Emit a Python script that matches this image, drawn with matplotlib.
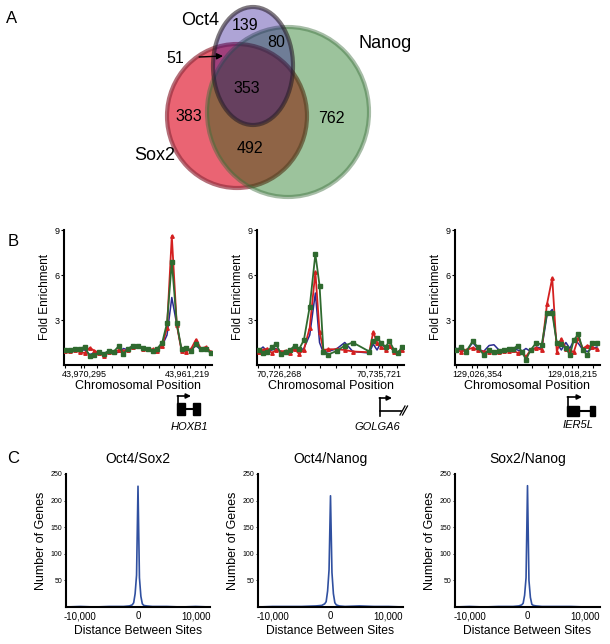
import numpy as np
import matplotlib
matplotlib.use('Agg')
import matplotlib.pyplot as plt
from matplotlib.patches import Ellipse, Rectangle
from matplotlib.ticker import MultipleLocator, FixedLocator

plt.rcParams['font.family'] = ['Liberation Sans', 'DejaVu Sans']

# ---- panel A: venn counts
venn_labels = ['Oct4', 'Sox2', 'Nanog']
oct4_only = 139
oct4_nanog = 80
oct4_sox2 = 51
all_three = 353
sox2_only = 383
nanog_only = 762
sox2_nanog = 492

# ---- panel B: ChIP-chip fold enrichment (x = relative probe position, 0-100)
b_genes = ['HOXB1', 'GOLGA6', 'IER5L']
b_ticklabels = [['43,970,295', '43,961,219'],
                ['70,726,268', '70,735,721'],
                ['129,026,354', '129,018,215']]
b_tickpos = [[12.8, 83.8], [14.3, 83.7], [14.5, 81.4]]

hoxb1_x = [0, 3.3, 6.7, 10, 13.3, 16.7, 20, 23.3, 26.7, 30, 33.3, 36.7, 40, 43.3, 46.7, 50,
           53.3, 56.7, 60, 63.3, 66.7, 70, 73.3, 76.7, 80, 83.3, 86.7, 90, 93.3, 96.7, 100]
hoxb1_blue = [1.0, 1.0, 1.05, 1.0, 1.0, 0.7, 0.8, 0.85, 0.8, 0.9, 0.8, 0.85, 1.1, 1.0, 1.15, 1.2,
              1.1, 1.0, 1.0, 1.05, 1.3, 2.0, 4.5, 2.7, 1.0, 1.0, 1.0, 1.3, 1.0, 1.1, 0.85]
hoxb1_red = [0.95, 0.95, 1.0, 0.85, 0.8, 1.15, 0.95, 0.8, 0.6, 0.9, 0.85, 1.0, 0.95, 1.0, 1.2, 1.25,
             1.1, 1.05, 1.05, 0.95, 1.3, 2.5, 8.6, 2.7, 0.95, 0.9, 1.1, 1.7, 1.1, 1.2, 0.9]
hoxb1_green = [1.0, 1.0, 1.05, 1.1, 1.2, 0.6, 0.65, 0.85, 0.75, 0.95, 0.9, 1.25, 0.75, 1.1, 1.3, 1.3,
               1.15, 1.05, 0.95, 1.1, 1.5, 2.8, 6.9, 2.8, 1.05, 1.15, 0.95, 1.4, 1.05, 1.1, 0.8]

golga6_x = [0.2, 3.2, 6.1, 9.3, 12.2, 15.6, 19.0, 22.0, 25.2, 28.1, 31.5, 35.6, 39.5, 42.4,
            45.1, 48.5, 54.6, 59.9, 65.5, 76.9, 79.6, 82.3, 85.0, 88.2, 90.9, 94.1, 96.8, 99.5]
golga6_blue = [0.95, 1.2, 0.9, 1.0, 1.1, 0.9, 0.85, 1.0, 1.0, 0.95, 1.1, 2.0, 4.8, 1.5,
               0.8, 0.9, 1.1, 1.5, 0.9, 0.8, 1.4, 1.0, 1.5, 1.1, 1.3, 0.9, 0.85, 1.0]
golga6_red = [0.9, 1.0, 1.1, 0.8, 1.0, 0.9, 0.95, 0.8, 1.05, 0.75, 1.0, 2.5, 6.2, 2.2,
              1.0, 1.05, 1.05, 1.0, 0.9, 0.85, 2.2, 1.5, 1.2, 1.0, 1.3, 0.9, 0.85, 1.0]
golga6_green = [1.0, 0.8, 0.9, 1.2, 1.4, 0.75, 0.9, 1.0, 1.3, 1.05, 1.65, 3.9, 7.4, 5.3,
                0.9, 0.7, 0.95, 1.3, 1.5, 0.9, 1.6, 1.8, 1.5, 1.2, 1.6, 1.0, 0.8, 1.2]

ier5l_x = [0, 3.4, 6.9, 11.5, 14.9, 19.1, 23.0, 26.4, 29.9, 33.3, 36.8, 39.8, 43.0, 46.0, 48.9,
           52.2, 56.3, 60.0, 63.7, 67.4, 70.6, 73.8, 77.0, 79.8, 82.5, 85.7, 89.0, 92.2, 95.4, 98.9]
ier5l_blue = [1.1, 1.0, 0.9, 1.5, 1.1, 0.9, 1.3, 1.35, 1.0, 0.95, 1.05, 1.1, 1.0, 0.9, 1.1,
              0.9, 1.2, 1.1, 3.3, 3.7, 1.45, 1.0, 1.5, 1.1, 1.65, 1.45, 1.0, 0.9, 1.1, 1.2]
ier5l_red = [1.0, 0.9, 1.0, 1.15, 1.0, 0.9, 0.9, 0.9, 0.85, 0.95, 0.95, 1.0, 0.8, 0.9, 0.55,
             1.0, 1.15, 1.0, 4.05, 5.8, 0.9, 1.75, 1.1, 1.0, 0.85, 1.8, 1.1, 1.3, 1.2, 1.05]
ier5l_green = [1.0, 1.2, 0.9, 1.6, 1.2, 0.7, 1.0, 0.85, 0.95, 1.0, 1.1, 1.05, 1.3, 0.9, 0.35,
               1.0, 1.5, 1.35, 3.45, 3.45, 1.5, 1.4, 1.15, 0.65, 1.65, 2.05, 1.0, 0.65, 1.5, 1.5]

b_data = [(hoxb1_x, hoxb1_blue, hoxb1_red, hoxb1_green),
          (golga6_x, golga6_blue, golga6_red, golga6_green),
          (ier5l_x, ier5l_blue, ier5l_red, ier5l_green)]

# ---- panel C: distance between binding sites
c_titles = ['Oct4/Sox2', 'Oct4/Nanog', 'Sox2/Nanog']
dist_x = [-12500, -10000, -7500, -5000, -2500, -1500, -1000, -750, -500, -250, 0,
          250, 500, 750, 1000, 1500, 2500, 5000, 7500, 10000, 12500]
oct4_sox2_n = [0, 1, 0, 1, 1, 2, 4, 8, 25, 60, 227, 55, 20, 6, 3, 2, 1, 1, 0, 1, 0]
oct4_nanog_n = [0, 1, 1, 1, 2, 3, 6, 10, 30, 70, 209, 65, 25, 8, 4, 2, 1, 2, 1, 1, 0]
sox2_nanog_n = [0, 1, 0, 1, 1, 2, 4, 7, 22, 55, 228, 50, 18, 5, 3, 2, 1, 1, 1, 0, 0]
c_data = [oct4_sox2_n, oct4_nanog_n, sox2_nanog_n]

W, H = 610, 644
fig = plt.figure(figsize=(W / 100, H / 100), dpi=100)


def px_axes(x0, y0, x1, y1):
    return fig.add_axes([x0 / W, 1 - y1 / H, (x1 - x0) / W, (y1 - y0) / H])


def rgba(r, g, b, a):
    return (r / 255, g / 255, b / 255, a)


# overlay in pixel coords for venn, letters, gene cartoons
ov = fig.add_axes([0, 0, 1, 1])
ov.set_xlim(0, W)
ov.set_ylim(H, 0)
ov.axis('off')
ov.patch.set_alpha(0)

# venn (sox2 bottom, nanog, oct4 top)
ov.add_patch(Ellipse((237, 116), 140, 144, facecolor=rgba(228, 48, 68, 0.75),
                     edgecolor=rgba(150, 50, 65, 0.7), lw=3, zorder=1))
ov.add_patch(Ellipse((288, 112), 162, 170, facecolor=rgba(0, 101, 0, 0.39),
                     edgecolor=rgba(60, 110, 60, 0.45), lw=3, zorder=2))
ov.add_patch(Ellipse((253, 66), 80, 118, facecolor=rgba(30, 0, 142, 0.355),
                     edgecolor=rgba(40, 30, 40, 0.6), lw=3, zorder=3))

ov.text(200, 20, venn_labels[0], fontsize=13, ha='center', va='center')
ov.text(155, 155, venn_labels[1], fontsize=13, ha='center', va='center')
ov.text(385, 43, venn_labels[2], fontsize=13, ha='center', va='center')
vfs = 11.5
ov.text(245, 25, str(oct4_only), fontsize=vfs, ha='center', va='center', zorder=5)
ov.text(276, 42, str(oct4_nanog), fontsize=vfs, ha='center', va='center', zorder=5)
ov.text(247, 88, str(all_three), fontsize=vfs, ha='center', va='center', zorder=5)
ov.text(189, 116, str(sox2_only), fontsize=vfs, ha='center', va='center', zorder=5)
ov.text(331, 118, str(nanog_only), fontsize=vfs, ha='center', va='center', zorder=5)
ov.text(250, 148, str(sox2_nanog), fontsize=vfs, ha='center', va='center', zorder=5)
ov.annotate(str(oct4_sox2), xy=(223, 56), xytext=(175, 58), fontsize=vfs,
            ha='center', va='center', zorder=5,
            arrowprops=dict(arrowstyle='-|>', color='black', lw=1, shrinkA=9, shrinkB=0,
                            mutation_scale=9))

# panel letters
ov.text(12, 18, 'A', fontsize=12, ha='center', va='center')
ov.text(13, 241, 'B', fontsize=12, ha='center', va='center')
ov.text(13, 458, 'C', fontsize=12, ha='center', va='center')

# gene cartoons
arr = dict(arrowstyle='-|>', color='black', lw=1.2, mutation_scale=7, shrinkA=0, shrinkB=0)
# HOXB1
ov.add_patch(Rectangle((177, 403), 8, 12, color='black'))
ov.add_patch(Rectangle((193, 403), 7, 12, color='black'))
ov.plot([185, 193], [409, 409], color='black', lw=1.5)
ov.plot([178, 178], [403, 396], color='black', lw=1.2)
ov.annotate('', xy=(191, 396), xytext=(177.4, 396), arrowprops=arr)
ov.text(189, 427, b_genes[0], fontsize=8, style='italic', ha='center', va='center')
# GOLGA6
ov.plot([380, 380], [416, 398], color='black', lw=1.2)
ov.annotate('', xy=(392, 398), xytext=(379.4, 398), arrowprops=arr)
ov.plot([380, 401], [411, 411], color='black', lw=1.2)
ov.plot([400, 405], [415, 406], color='black', lw=0.9)
ov.plot([402.5, 407.5], [415, 406], color='black', lw=0.9)
ov.text(377, 427, b_genes[1], fontsize=8, style='italic', ha='center', va='center')
# IER5L
ov.add_patch(Rectangle((567, 406), 12, 10, color='black'))
ov.add_patch(Rectangle((590, 406), 5, 10, color='black'))
ov.plot([579, 590], [411, 411], color='black', lw=1.5)
ov.plot([568, 568], [406, 397], color='black', lw=1.2)
ov.annotate('', xy=(582, 397), xytext=(567.4, 397), arrowprops=arr)
ov.text(578, 425, b_genes[2], fontsize=8, style='italic', ha='center', va='center')

# ---- panel B axes
b_boxes = [(64, 230, 212, 365), (257, 230, 404, 365), (455, 230, 600, 365)]
for box, (xs, yb, yr, yg), labs, tpos in zip(b_boxes, b_data, b_ticklabels, b_tickpos):
    ax = px_axes(*box)
    ax.patch.set_alpha(0)
    ax.plot(xs, yb, color='#2a2a90', lw=1.1, zorder=3)
    ax.plot(xs, yr, color='#d42020', lw=1.3, marker='^', ms=2.5, zorder=4)
    ax.plot(xs, yg, color='#2f6a2f', lw=1.3, marker='s', ms=2.3, zorder=5)
    ax.set_xlim(-1, 101)
    ax.set_ylim(0, 9)
    for s in ['top', 'right']:
        ax.spines[s].set_visible(False)
    for s in ['left', 'bottom']:
        ax.spines[s].set_linewidth(1.5)
    ax.set_yticks([3, 6, 9])
    ax.tick_params(axis='y', labelsize=6.5, length=2, width=0.8, pad=1)
    ax.xaxis.set_major_locator(FixedLocator(tpos))
    ax.set_xticklabels(labs)
    ax.xaxis.set_minor_locator(MultipleLocator(10.7))
    ax.tick_params(axis='x', which='both', labelsize=6.5, length=2.5, width=0.8, pad=1)
    ax.set_xlabel('Chromosomal Position', fontsize=9, labelpad=1)
    ax.set_ylabel('Fold Enrichment', fontsize=8.5, labelpad=3)

# ---- panel C axes
c_boxes = [(66, 474, 210, 607), (258, 474, 403, 607), (455, 474, 600, 607)]
for box, counts, title in zip(c_boxes, c_data, c_titles):
    ax = px_axes(*box)
    ax.patch.set_alpha(0)
    ax.plot(dist_x, counts, color='#3050a0', lw=1.2)
    ax.set_xlim(-12500, 12500)
    ax.set_ylim(0, 250)
    for s in ['top', 'right']:
        ax.spines[s].set_visible(False)
    for s in ['left', 'bottom']:
        ax.spines[s].set_linewidth(1.5)
    ax.set_yticks([50, 100, 150, 200, 250])
    ax.set_xticks([-10000, 0, 10000])
    ax.set_xticklabels(['-10,000', '0', '10,000'])
    ax.tick_params(axis='y', labelsize=5, length=1.5, width=0.6, pad=1)
    ax.tick_params(axis='x', labelsize=7, length=0, pad=3)
    ax.set_xlabel('Distance Between Sites', fontsize=8.7, labelpad=3)
    ax.set_ylabel('Number of Genes', fontsize=9, labelpad=3)
    ax.set_title(title, fontsize=10, pad=8)

fig.savefig('out.png', dpi=100)
